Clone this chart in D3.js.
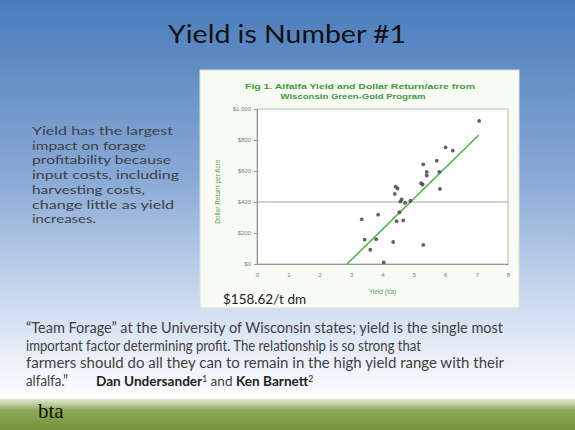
<!DOCTYPE html>
<html>
<head>
<meta charset="utf-8">
<script src="https://cdn.jsdelivr.net/npm/d3@7"></script>
<style>
  html, body { margin: 0; padding: 0; overflow: hidden; }
  svg { display: block; }
</style>
</head>
<body>
<svg id="slide" width="575" height="430"></svg>
<script>
"use strict";

// yield (t/a) and dollar return per acre
const yieldTons = [3.34, 3.86, 3.43, 3.80, 3.61, 4.34, 4.04, 4.45, 4.66, 4.54, 4.57, 4.72, 4.39, 4.42, 4.48,
  4.89, 4.61, 5.30, 5.23, 5.28, 5.41, 5.41, 5.30, 5.73, 5.81, 5.83, 6.01, 6.24, 7.08];
const returnPerAcre = [288, 318, 157, 160, 92, 142, 10, 276, 281, 334, 403, 394, 452, 499, 487,
  408, 417, 123, 521, 513, 594, 571, 643, 666, 595, 484, 753, 731, 923];

// fitted trend line end points
const trendYield = [2.87, 7.07];
const trendReturn = [0, 832];

const xTickValues = [0, 1, 2, 3, 4, 5, 6, 7, 8];
const yTickValues = [0, 200, 400, 600, 800, 1000];
const refLineValue = 400;

const slideTitle = "Yield is Number #1";
const figTitle = ["Fig 1. Alfalfa Yield and Dollar Return/acre from", "Wisconsin Green-Gold Program"];
const yAxisLabel = "Dollar Return per Acre";
const xAxisLabel = "Yield (t/a)";
const priceNote = "$158.62/t dm";
const sideText = ["Yield has the largest", "impact on forage", "profitability because",
  "input costs, including", "harvesting costs,", "change little as yield", "increases."];
const sideWidths = [141, 114, 139, 147, 113, 142, 64];
const quoteText = ["\u201cTeam Forage\u201d at the University of Wisconsin states; yield is the single most",
  "important factor determining profit. The relationship is so strong that",
  "farmers should do all they can to remain in the high yield range with their"];
const quoteWidths = [477, 395, 478];
const footerMark = "bta";

const bodyFont = "Lato, 'Open Sans', sans-serif";

const svg = d3.select("#slide");
const defs = svg.append("defs");

const bg = defs.append("linearGradient").attr("id", "bg")
  .attr("x1", 0).attr("y1", 0).attr("x2", 0).attr("y2", 1);
bg.append("stop").attr("offset", "0%").attr("stop-color", "#4a7cbb");
bg.append("stop").attr("offset", "45%").attr("stop-color", "#8aaad6");
bg.append("stop").attr("offset", "80%").attr("stop-color", "#d6e2f2");
bg.append("stop").attr("offset", "100%").attr("stop-color", "#ffffff");

const band = defs.append("linearGradient").attr("id", "band")
  .attr("x1", 0).attr("y1", 0).attr("x2", 0).attr("y2", 1);
band.append("stop").attr("offset", "0%").attr("stop-color", "#dfe7cf");
band.append("stop").attr("offset", "20%").attr("stop-color", "#b9cb96");
band.append("stop").attr("offset", "35%").attr("stop-color", "#8fa95a");
band.append("stop").attr("offset", "100%").attr("stop-color", "#76923b");

svg.append("rect").attr("width", 575).attr("height", 400).attr("fill", "url(#bg)");
svg.append("rect").attr("y", 399).attr("width", 575).attr("height", 31).attr("fill", "url(#band)");

svg.append("text")
  .attr("x", 287).attr("y", 43)
  .attr("text-anchor", "middle")
  .attr("font-family", bodyFont)
  .attr("font-size", 25)
  .attr("textLength", 238).attr("lengthAdjust", "spacingAndGlyphs")
  .attr("fill", "#111")
  .text(slideTitle);

svg.append("g")
  .attr("font-family", bodyFont)
  .attr("font-size", 12.2)
  .attr("fill", "#3f3f3f")
  .selectAll("text")
  .data(sideText)
  .join("text")
  .attr("x", 32)
  .attr("y", (d, i) => 135 + i * 14.7)
  .attr("textLength", (d, i) => sideWidths[i])
  .attr("lengthAdjust", "spacingAndGlyphs")
  .text(d => d);

// figure panel
svg.append("rect")
  .attr("x", 200).attr("y", 70).attr("width", 319).attr("height", 238)
  .attr("fill", "#f7fbf4").attr("stroke", "#d9e2d6");

const x = d3.scaleLinear().domain([0, 8]).range([257, 508]);
const y = d3.scaleLinear().domain([0, 1000]).range([264, 109]);

svg.append("rect")
  .attr("x", x(0)).attr("y", y(1000))
  .attr("width", x(8) - x(0)).attr("height", y(0) - y(1000))
  .attr("fill", "#fff").attr("stroke", "#b5bcb3");

svg.append("g")
  .attr("font-family", "Liberation Sans, sans-serif")
  .attr("font-weight", "bold")
  .attr("font-size", 8)
  .attr("fill", "#3d9a3d")
  .attr("text-anchor", "middle")
  .selectAll("text")
  .data(figTitle)
  .join("text")
  .attr("x", (d, i) => i ? 353 : 360)
  .attr("y", (d, i) => 89 + i * 10)
  .attr("textLength", (d, i) => i ? 145 : 230)
  .attr("lengthAdjust", "spacingAndGlyphs")
  .text(d => d);

svg.append("line")
  .attr("x1", x(0)).attr("x2", x(8))
  .attr("y1", y(refLineValue)).attr("y2", y(refLineValue))
  .attr("stroke", "#9aa898").attr("stroke-width", 1);

const yAxis = svg.append("g")
  .attr("transform", `translate(${x(0)},0)`)
  .call(d3.axisLeft(y).tickValues(yTickValues).tickSize(3)
    .tickFormat(d => "$" + d3.format(",")(d)));
const xAxis = svg.append("g")
  .attr("transform", `translate(0,${y(0)})`)
  .call(d3.axisBottom(x).tickValues(xTickValues).tickSize(0).tickPadding(9));

[yAxis, xAxis].forEach(g => {
  g.select(".domain").attr("stroke", "#8d9a8b");
  g.selectAll(".tick line").attr("stroke", "#8d9a8b");
  g.selectAll("text")
    .attr("font-family", "Liberation Sans, sans-serif")
    .attr("font-size", 6)
    .attr("fill", "#6b8a66");
});

svg.append("text")
  .attr("transform", `translate(220,${(y(0) + y(1000)) / 2 + 5}) rotate(-90)`)
  .attr("text-anchor", "middle")
  .attr("font-family", "Liberation Sans, sans-serif")
  .attr("font-size", 6.5)
  .attr("fill", "#5f9a5a")
  .text(yAxisLabel);

svg.append("text")
  .attr("x", x(4)).attr("y", 294)
  .attr("text-anchor", "middle")
  .attr("font-family", "Liberation Sans, sans-serif")
  .attr("font-size", 6.5)
  .attr("fill", "#5f9a5a")
  .text(xAxisLabel);

svg.append("line")
  .attr("x1", x(trendYield[0])).attr("y1", y(trendReturn[0]))
  .attr("x2", x(trendYield[1])).attr("y2", y(trendReturn[1]))
  .attr("stroke", "#57b04f").attr("stroke-width", 1.6);

svg.append("g")
  .selectAll("circle")
  .data(yieldTons.map((v, i) => [v, returnPerAcre[i]]))
  .join("circle")
  .attr("cx", d => x(d[0]))
  .attr("cy", d => y(d[1]))
  .attr("r", 1.9)
  .attr("fill", "#3e4d3c")
  .attr("fill-opacity", 0.85);

svg.append("text")
  .attr("x", 223).attr("y", 304)
  .attr("font-family", bodyFont)
  .attr("font-size", 13.5)
  .attr("fill", "#222")
  .text(priceNote);

const quote = svg.append("g")
  .attr("font-family", bodyFont)
  .attr("font-size", 14.5)
  .attr("fill", "#3f3f3f");
quote.selectAll("text")
  .data(quoteText)
  .join("text")
  .attr("x", 26)
  .attr("y", (d, i) => 333 + i * 17.6)
  .attr("textLength", (d, i) => quoteWidths[i])
  .attr("lengthAdjust", "spacingAndGlyphs")
  .text(d => d);
quote.append("text")
  .attr("x", 26).attr("y", 386)
  .attr("textLength", 42)
  .attr("lengthAdjust", "spacingAndGlyphs")
  .text("alfalfa.\u201d");

const credit = quote.append("text")
  .attr("x", 96).attr("y", 386)
  .attr("font-size", 13.6);
credit.append("tspan").attr("font-weight", "bold").attr("fill", "#222").text("Dan Undersander");
credit.append("tspan").attr("font-size", 8.5).attr("dy", -4).attr("fill", "#222").text("1");
credit.append("tspan").attr("dy", 4).text(" and ");
credit.append("tspan").attr("font-weight", "bold").attr("fill", "#222").text("Ken Barnett");
credit.append("tspan").attr("font-size", 8.5).attr("dy", -4).attr("fill", "#222").text("2");

svg.append("text")
  .attr("x", 38).attr("y", 418)
  .attr("font-family", "Liberation Serif, serif")
  .attr("font-size", 21)
  .attr("fill", "#111")
  .text(footerMark);
</script>
</body>
</html>
